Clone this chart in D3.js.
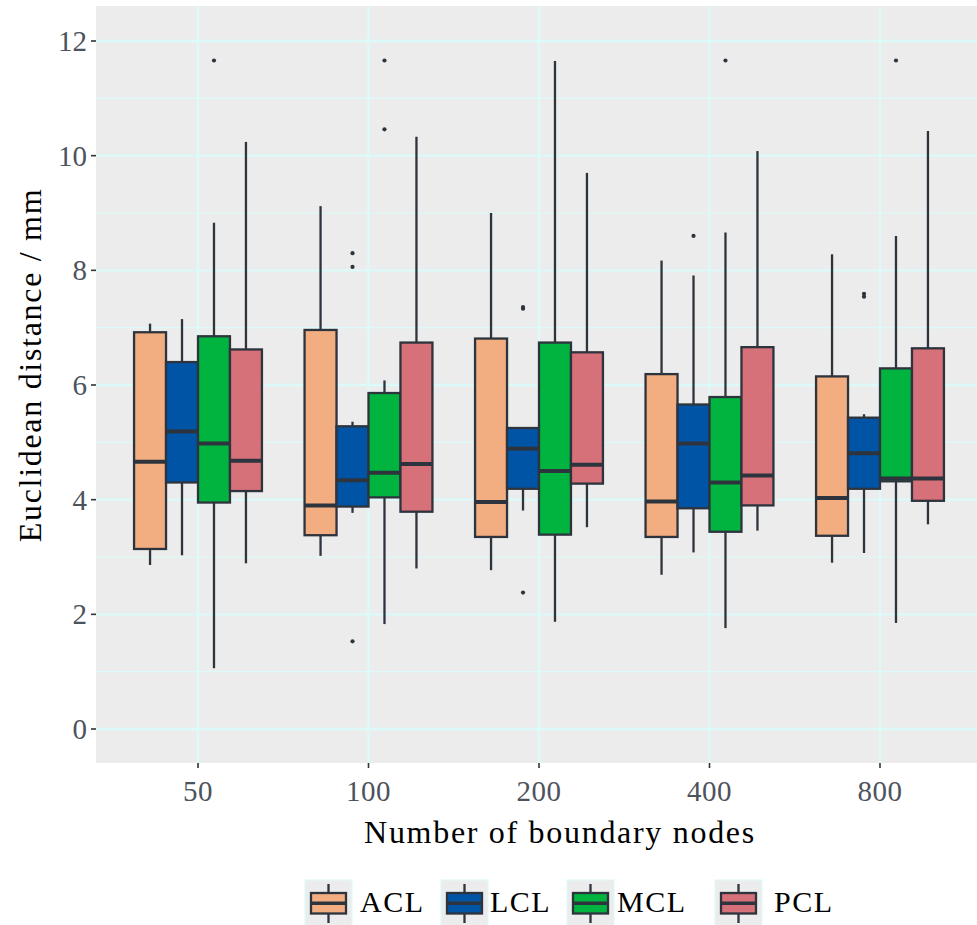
<!DOCTYPE html>
<html>
<head>
<meta charset="utf-8">
<script src="https://cdn.jsdelivr.net/npm/d3@7"></script>
<style>
  html, body { margin: 0; padding: 0; background: #ffffff; }
  svg { display: block; }
</style>
</head>
<body>
<svg id="chart" width="977" height="925"></svg>
<script>
// Boundary-node counts on the x axis and the four ligament groups
const categories = ["50", "100", "200", "400", "800"];
const series = ["ACL", "LCL", "MCL", "PCL"];
const seriesColors = ["#F2AE80", "#0054A6", "#00B43F", "#D67079"];
const yTicks = [0, 2, 4, 6, 8, 10, 12];

// Box statistics per group: [lower whisker, Q1, median, Q3, upper whisker]
const acl = [
  [2.86, 3.14, 4.66, 6.92, 7.07],
  [3.02, 3.38, 3.90, 6.96, 9.12],
  [2.77, 3.35, 3.96, 6.81, 9.00],
  [2.69, 3.35, 3.97, 6.19, 8.17],
  [2.90, 3.37, 4.03, 6.15, 8.28]
];
const lcl = [
  [3.03, 4.30, 5.19, 6.40, 7.15],
  [3.77, 3.88, 4.34, 5.28, 5.36],
  [3.81, 4.19, 4.89, 5.25, 5.25],
  [3.08, 3.85, 4.98, 5.66, 7.91],
  [3.07, 4.19, 4.81, 5.43, 5.49]
];
const mcl = [
  [1.06, 3.95, 4.98, 6.85, 8.83],
  [1.83, 4.04, 4.47, 5.86, 6.08],
  [1.87, 3.39, 4.50, 6.74, 11.65],
  [1.76, 3.44, 4.30, 5.79, 8.66],
  [1.85, 4.32, 4.37, 6.29, 8.60]
];
const pcl = [
  [2.89, 4.15, 4.68, 6.62, 10.24],
  [2.80, 3.79, 4.62, 6.74, 10.33],
  [3.52, 4.28, 4.61, 6.57, 9.70],
  [3.46, 3.90, 4.42, 6.66, 10.08],
  [3.57, 3.98, 4.37, 6.64, 10.43]
];

// Outlying observations per group
const aclOutliers = [[], [], [], [], []];
const lclOutliers = [[], [8.30, 8.06, 1.53], [7.33, 7.36, 2.38], [8.60], [7.54, 7.59]];
const mclOutliers = [[11.66], [11.66, 10.46], [], [11.66], [11.66]];
const pclOutliers = [[], [], [], [], []];

const stats = [acl, lcl, mcl, pcl];
const outliers = [aclOutliers, lclOutliers, mclOutliers, pclOutliers];

const svg = d3.select("#chart");
const panel = { left: 96, right: 982, top: 6, bottom: 763 };

const outline = "#2E343D";
const gridColor = "#DDFAFA";
const panelBg = "#EBECEB";
const tickText = "#4D535C";
const serif = "'Liberation Serif', 'DejaVu Serif', serif";

const x = d3.scalePoint().domain(categories).range([198, 880]);
const step = x.step();
const dodge = d3.scaleBand().domain(series).range([-0.375 * step, 0.375 * step]);
const y = d3.scaleLinear().domain([0, 12]).range([729, 41]);

svg.append("defs").append("clipPath").attr("id", "panelClip")
  .append("rect")
  .attr("x", panel.left).attr("y", panel.top)
  .attr("width", panel.right - panel.left).attr("height", panel.bottom - panel.top);

// Panel background
svg.append("rect")
  .attr("x", panel.left).attr("y", panel.top)
  .attr("width", panel.right - panel.left).attr("height", panel.bottom - panel.top)
  .attr("fill", panelBg);

const grid = svg.append("g").attr("clip-path", "url(#panelClip)");
// Minor horizontal grid
grid.selectAll("line.minor").data(d3.range(1, 13, 2)).join("line")
  .attr("x1", panel.left).attr("x2", panel.right)
  .attr("y1", d => y(d)).attr("y2", d => y(d))
  .attr("stroke", gridColor).attr("stroke-width", 1.2);
// Major horizontal grid
grid.selectAll("line.major").data(yTicks).join("line")
  .attr("x1", panel.left).attr("x2", panel.right)
  .attr("y1", d => y(d)).attr("y2", d => y(d))
  .attr("stroke", gridColor).attr("stroke-width", 2.3);
// Vertical grid at categories
grid.selectAll("line.vert").data(categories).join("line")
  .attr("x1", d => x(d)).attr("x2", d => x(d))
  .attr("y1", panel.top).attr("y2", panel.bottom)
  .attr("stroke", gridColor).attr("stroke-width", 2.5);

// Boxplots
const boxW = dodge.bandwidth();
const marks = svg.append("g").attr("clip-path", "url(#panelClip)");
series.forEach((s, si) => {
  categories.forEach((c, ci) => {
    const [lo, q1, med, q3, hi] = stats[si][ci];
    const cx = x(c) + dodge(s) + boxW / 2;
    const g = marks.append("g");
    g.append("line")
      .attr("x1", cx).attr("x2", cx).attr("y1", y(hi)).attr("y2", y(q3))
      .attr("stroke", outline).attr("stroke-width", 2.3);
    g.append("line")
      .attr("x1", cx).attr("x2", cx).attr("y1", y(q1)).attr("y2", y(lo))
      .attr("stroke", outline).attr("stroke-width", 2.3);
    g.append("rect")
      .attr("x", cx - boxW / 2).attr("y", y(q3))
      .attr("width", boxW).attr("height", y(q1) - y(q3))
      .attr("fill", seriesColors[si])
      .attr("stroke", outline).attr("stroke-width", 2.3);
    g.append("line")
      .attr("x1", cx - boxW / 2).attr("x2", cx + boxW / 2)
      .attr("y1", y(med)).attr("y2", y(med))
      .attr("stroke", outline).attr("stroke-width", 4);
    g.selectAll("circle").data(outliers[si][ci]).join("circle")
      .attr("cx", cx).attr("cy", d => y(d)).attr("r", 2.1)
      .attr("fill", outline);
  });
});

// Y axis
const yAxis = svg.append("g");
yAxis.selectAll("line").data(yTicks).join("line")
  .attr("x1", panel.left - 5).attr("x2", panel.left)
  .attr("y1", d => y(d)).attr("y2", d => y(d))
  .attr("stroke", "#333333").attr("stroke-width", 1.6);
yAxis.selectAll("text").data(yTicks).join("text")
  .attr("x", panel.left - 9).attr("y", d => y(d))
  .attr("dy", "0.34em")
  .attr("text-anchor", "end")
  .attr("font-family", serif).attr("font-size", 29)
  .attr("fill", tickText)
  .text(d => d);

// X axis
const xAxis = svg.append("g");
xAxis.selectAll("line").data(categories).join("line")
  .attr("x1", d => x(d)).attr("x2", d => x(d))
  .attr("y1", panel.bottom).attr("y2", panel.bottom + 5)
  .attr("stroke", "#333333").attr("stroke-width", 1.6);
xAxis.selectAll("text").data(categories).join("text")
  .attr("x", d => x(d)).attr("y", 801)
  .attr("text-anchor", "middle")
  .attr("font-family", serif).attr("font-size", 29)
  .attr("letter-spacing", 0.5)
  .attr("fill", tickText)
  .text(d => d);

// Axis titles
svg.append("text")
  .attr("x", 560).attr("y", 843)
  .attr("text-anchor", "middle")
  .attr("font-family", serif).attr("font-size", 32)
  .attr("letter-spacing", 1.7)
  .attr("fill", "#000")
  .text("Number of boundary nodes");

svg.append("text")
  .attr("transform", "translate(41,365) rotate(-90)")
  .attr("text-anchor", "middle")
  .attr("font-family", serif).attr("font-size", 32)
  .attr("letter-spacing", 1.7)
  .attr("fill", "#000")
  .text("Euclidean distance / mm");

// Legend
const legendKeyX = [305, 441, 567, 715];
const legendTextX = [360, 490, 617, 774];
const legend = svg.append("g");
series.forEach((s, i) => {
  const kx = legendKeyX[i];
  const g = legend.append("g");
  g.append("rect")
    .attr("x", kx).attr("y", 880).attr("width", 47).attr("height", 47)
    .attr("fill", panelBg).attr("stroke", gridColor).attr("stroke-width", 1.2);
  const cx = kx + 23.5;
  g.append("line")
    .attr("x1", cx).attr("x2", cx).attr("y1", 884).attr("y2", 923)
    .attr("stroke", outline).attr("stroke-width", 2.3);
  g.append("rect")
    .attr("x", kx + 6).attr("y", 893).attr("width", 35).attr("height", 20.5)
    .attr("fill", seriesColors[i]).attr("stroke", outline).attr("stroke-width", 2.3);
  g.append("line")
    .attr("x1", kx + 6).attr("x2", kx + 41).attr("y1", 903.3).attr("y2", 903.3)
    .attr("stroke", outline).attr("stroke-width", 3.5);
  g.append("text")
    .attr("x", legendTextX[i]).attr("y", 912)
    .attr("font-family", serif).attr("font-size", 30)
    .attr("letter-spacing", 1.5)
    .attr("fill", "#000")
    .text(s);
});
</script>
</body>
</html>
